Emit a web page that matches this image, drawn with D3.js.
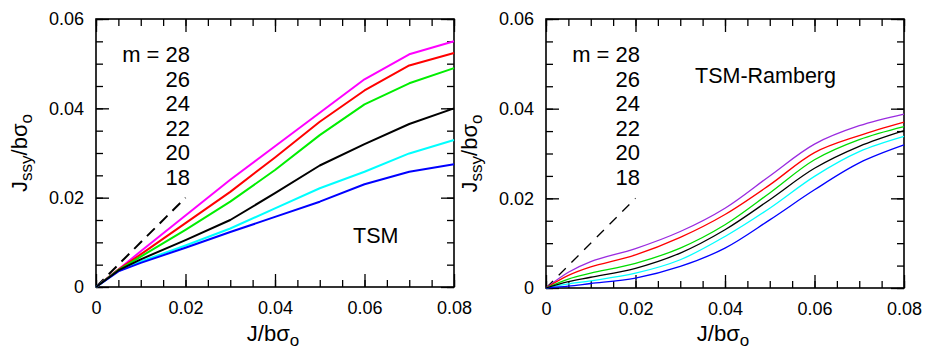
<!DOCTYPE html>
<html>
<head>
<meta charset="utf-8">
<script src="https://cdn.jsdelivr.net/npm/d3@7"></script>
<style>
  body { margin: 0; background: #fff; }
  svg { font-family: 'Liberation Sans', Arial, sans-serif; }
  .tick line { stroke: #000; stroke-width: 1.3; }
  .tick text { font-size: 18px; fill: #000; }
  .domain { display: none; }
</style>
</head>
<body>
<div id="chart"></div>
<script>
// x positions (J/b sigma_o) where values were read
const xVals = [0, 0.005, 0.01, 0.02, 0.03, 0.04, 0.05, 0.06, 0.07, 0.08];
const mLabels = ['28', '26', '24', '22', '20', '18'];

// TSM curves
const tsm28 = [0, 0.0039, 0.0080, 0.0160, 0.0240, 0.0315, 0.0390, 0.0465, 0.0521, 0.0550];
const tsm26 = [0, 0.0039, 0.0073, 0.0143, 0.0213, 0.0290, 0.0370, 0.0440, 0.0496, 0.0524];
const tsm24 = [0, 0.0038, 0.0068, 0.0128, 0.0191, 0.0262, 0.0340, 0.0409, 0.0456, 0.0490];
const tsm22 = [0, 0.0037, 0.0062, 0.0105, 0.0150, 0.0210, 0.0272, 0.0320, 0.0365, 0.0400];
const tsm20 = [0, 0.0036, 0.0057, 0.0093, 0.0131, 0.0176, 0.0221, 0.0258, 0.0299, 0.0329];
const tsm18 = [0, 0.0035, 0.0054, 0.0088, 0.0123, 0.0157, 0.0191, 0.0230, 0.0258, 0.0275];

// TSM-Ramberg curves
const ram28 = [0, 0.0035, 0.0059, 0.0088, 0.0126, 0.0178, 0.0250, 0.0321, 0.0362, 0.0388];
const ram26 = [0, 0.0028, 0.0047, 0.0074, 0.0113, 0.0164, 0.0230, 0.0302, 0.0340, 0.0370];
const ram24 = [0, 0.0020, 0.0033, 0.0055, 0.0089, 0.0141, 0.0212, 0.0286, 0.0331, 0.0360];
const ram22 = [0, 0.0014, 0.0024, 0.0044, 0.0078, 0.0130, 0.0197, 0.0267, 0.0316, 0.0351];
const ram20 = [0, 0.0009, 0.0016, 0.0033, 0.0063, 0.0115, 0.0178, 0.0249, 0.0304, 0.0338];
const ram18 = [0, 0.0004, 0.0010, 0.0022, 0.0048, 0.0089, 0.0152, 0.0219, 0.0279, 0.0319];

// reference slope line J_ssy = J
const refX = [0, 0.02];
const refY = [0, 0.02];

const xTicks = [0, 0.02, 0.04, 0.06, 0.08];
const yTicks = [0, 0.02, 0.04, 0.06];
const minorTicks = d3.range(0, 0.0801, 0.005);

const width = 925;
const height = 353;

const svg = d3.select('#chart').append('svg')
  .attr('width', width)
  .attr('height', height);

const fmt = d => d === 0 ? '0' : d3.format('.2f')(d);

function drawPanel(p) {
  const x = d3.scaleLinear().domain([0, 0.08]).range([p.left, p.right]);
  const y = d3.scaleLinear().domain([0, 0.06]).range([p.bottom, p.top]);
  const g = svg.append('g');

  /* major + minor ticks, all pointing inwards */
  g.append('g').attr('transform', `translate(0,${p.bottom})`)
    .call(d3.axisBottom(x).tickValues(xTicks).tickSize(-13).tickPadding(14).tickFormat(fmt));
  g.append('g').attr('transform', `translate(0,${p.bottom})`)
    .call(d3.axisBottom(x).tickValues(minorTicks).tickSize(-7).tickFormat(''));
  g.append('g').attr('transform', `translate(0,${p.top})`)
    .call(d3.axisTop(x).tickValues(xTicks).tickSize(-13).tickFormat(''));
  g.append('g').attr('transform', `translate(0,${p.top})`)
    .call(d3.axisTop(x).tickValues(minorTicks).tickSize(-7).tickFormat(''));

  g.append('g').attr('transform', `translate(${p.left},0)`)
    .call(d3.axisLeft(y).tickValues(yTicks).tickSize(-13).tickPadding(12).tickFormat(fmt));
  g.append('g').attr('transform', `translate(${p.left},0)`)
    .call(d3.axisLeft(y).tickValues(minorTicks.filter(v => v <= 0.06)).tickSize(-7).tickFormat(''));
  g.append('g').attr('transform', `translate(${p.right},0)`)
    .call(d3.axisRight(y).tickValues(yTicks).tickSize(-13).tickFormat(''));
  g.append('g').attr('transform', `translate(${p.right},0)`)
    .call(d3.axisRight(y).tickValues(minorTicks.filter(v => v <= 0.06)).tickSize(-7).tickFormat(''));

  // frame
  g.append('rect')
    .attr('x', p.left).attr('y', p.top)
    .attr('width', p.right - p.left).attr('height', p.bottom - p.top)
    .attr('fill', 'none').attr('stroke', '#000').attr('stroke-width', 1.6);

  const line = d3.line()
    .x(d => x(d[0]))
    .y(d => y(d[1]))
    .curve(p.curve);

  // dashed reference line
  g.append('path')
    .datum(refX.map((v, i) => [v, refY[i]]))
    .attr('fill', 'none')
    .attr('stroke', '#000')
    .attr('stroke-width', p.dashWidth)
    .attr('stroke-dasharray', p.dash)
    .attr('d', d3.line().x(d => x(d[0])).y(d => y(d[1])));

  p.series.forEach(s => {
    g.append('path')
      .datum(xVals.map((v, i) => [v, s.values[i]]))
      .attr('fill', 'none')
      .attr('stroke', s.color)
      .attr('stroke-width', p.lineWidth)
      .attr('stroke-linejoin', 'round')
      .attr('d', line);
  });

  // legend list of m values
  mLabels.forEach((m, i) => {
    g.append('text')
      .attr('x', p.legendX)
      .attr('y', 62 + i * 24.6)
      .attr('text-anchor', 'end')
      .style('font-size', '22px')
      .text(i === 0 ? 'm = ' + m : m);
  });

  g.append('text')
    .attr('x', p.titleX).attr('y', p.titleY)
    .style('font-size', '21.5px')
    .text(p.title);

  // x axis label: J/bσo
  const xl = g.append('text')
    .attr('x', (p.left + p.right) / 2 - 2)
    .attr('y', 341)
    .attr('text-anchor', 'middle')
    .style('font-size', '22px');
  xl.append('tspan').text('J/bσ');
  xl.append('tspan').attr('dy', 5).style('font-size', '17px').text('o');

  // y axis label: Jssy/bσo
  const yl = g.append('text')
    .attr('transform', `translate(${p.left - 69},${(p.top + p.bottom) / 2}) rotate(-90)`)
    .attr('text-anchor', 'middle')
    .style('font-size', '22px');
  yl.append('tspan').text('J');
  yl.append('tspan').attr('dy', 5).style('font-size', '17px').text('ssy');
  yl.append('tspan').attr('dy', -5).text('/bσ');
  yl.append('tspan').attr('dy', 5).style('font-size', '17px').text('o');
}

drawPanel({
  left: 96, right: 454, top: 19, bottom: 287,
  curve: d3.curveLinear,
  lineWidth: 2,
  dashWidth: 2,
  dash: '11,7',
  legendX: 190,
  title: 'TSM', titleX: 353, titleY: 243,
  series: [
    { color: '#ff00ff', values: tsm28 },
    { color: '#ff0000', values: tsm26 },
    { color: '#00ee00', values: tsm24 },
    { color: '#00ffff', values: tsm20 },
    { color: '#0000ff', values: tsm18 },
    { color: '#000000', values: tsm22 }
  ]
});

drawPanel({
  left: 546, right: 904, top: 19, bottom: 288,
  curve: d3.curveCatmullRom.alpha(0.5),
  lineWidth: 1.3,
  dashWidth: 1.3,
  dash: '10,8',
  legendX: 640,
  title: 'TSM-Ramberg', titleX: 695, titleY: 83,
  series: [
    { color: '#9a2be0', values: ram28 },
    { color: '#ff0000', values: ram26 },
    { color: '#00dd00', values: ram24 },
    { color: '#00ffff', values: ram20 },
    { color: '#0000ff', values: ram18 },
    { color: '#000000', values: ram22 }
  ]
});
</script>
</body>
</html>
